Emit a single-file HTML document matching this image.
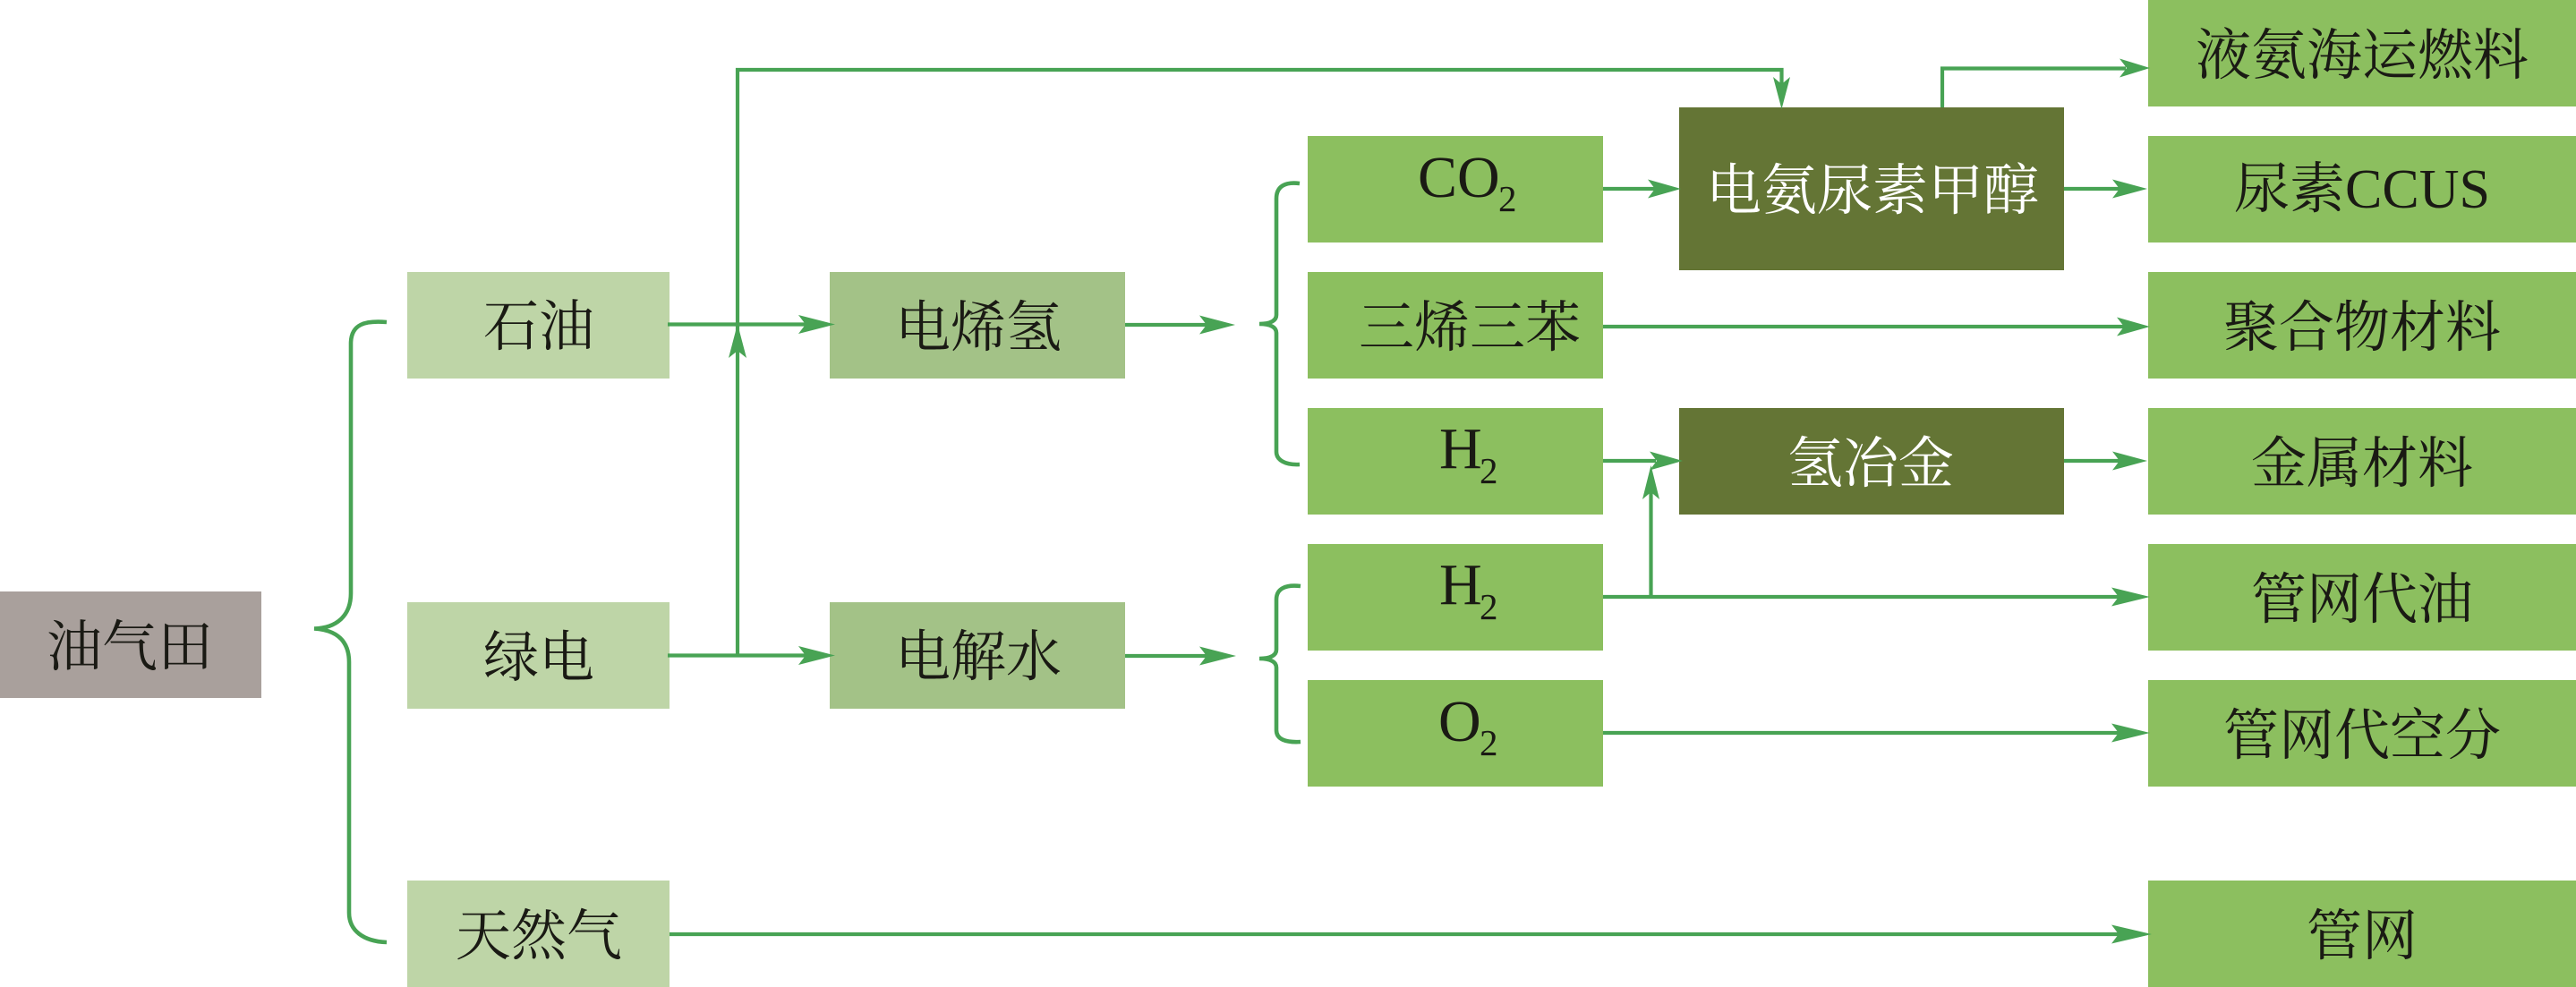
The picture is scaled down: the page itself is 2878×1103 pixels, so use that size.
<!DOCTYPE html>
<html lang="zh">
<head>
<meta charset="utf-8">
<style>
html,body{margin:0;padding:0;background:#fff;}
svg{display:block;}
.t{font-family:"Liberation Serif","Noto Serif CJK SC",serif;font-size:62px;fill:#1a1a14;text-anchor:middle;}
.w{fill:#fff;}
.l{font-family:"Liberation Serif",serif;font-size:66px;fill:#1a1a14;}
.s{font-family:"Liberation Serif",serif;font-size:41px;fill:#1a1a14;}
.ln{fill:none;stroke:#48a354;stroke-width:4.2;}
.br{fill:none;stroke:#48a354;stroke-width:4.6;}
.ar{fill:#48a354;}
</style>
</head>
<body>
<svg width="2878" height="1103" viewBox="0 0 2878 1103" xmlns="http://www.w3.org/2000/svg">
<rect width="2878" height="1103" fill="#fff"/>

<!-- boxes -->
<rect x="0" y="661" width="292" height="119" fill="#a9a09c"/>
<rect x="455" y="304" width="293" height="119" fill="#bed5a7"/>
<rect x="455" y="673" width="293" height="119" fill="#bed5a7"/>
<rect x="455" y="984" width="293" height="119" fill="#bed5a7"/>
<rect x="927" y="304" width="330" height="119" fill="#a3c287"/>
<rect x="927" y="673" width="330" height="119" fill="#a3c287"/>
<rect x="1461" y="152" width="330" height="119" fill="#8cbf5f"/>
<rect x="1461" y="304" width="330" height="119" fill="#8cbf5f"/>
<rect x="1461" y="456" width="330" height="119" fill="#8cbf5f"/>
<rect x="1461" y="608" width="330" height="119" fill="#8cbf5f"/>
<rect x="1461" y="760" width="330" height="119" fill="#8cbf5f"/>
<rect x="1876" y="120" width="430" height="182" fill="#647535"/>
<rect x="1876" y="456" width="430" height="119" fill="#647535"/>
<rect x="2400" y="0" width="478" height="119" fill="#8cbf5f"/>
<rect x="2400" y="152" width="478" height="119" fill="#8cbf5f"/>
<rect x="2400" y="304" width="478" height="119" fill="#8cbf5f"/>
<rect x="2400" y="456" width="478" height="119" fill="#8cbf5f"/>
<rect x="2400" y="608" width="478" height="119" fill="#8cbf5f"/>
<rect x="2400" y="760" width="478" height="119" fill="#8cbf5f"/>
<rect x="2400" y="984" width="478" height="119" fill="#8cbf5f"/>

<!-- braces -->
<path class="br" d="M432 360 C408 358 392 362 392 384 L392 663 C392 688 376 702 351 702.5 C376 704 390 716 390 740 L390 1020 C390 1040 406 1052 432 1053"/>
<path class="br" d="M1452 205 C1436 203 1426 208 1426 222 L1426 352 C1426 358 1420 362 1407 362 C1420 362 1426 366 1426 372 L1426 505 C1426 514 1436 520 1452 519"/>
<path class="br" d="M1453 655 C1436 653 1426 658 1426 670 L1426 726 C1426 732 1420 736 1407 736 C1420 736 1426 740 1426 746 L1426 816 C1426 826 1436 830 1453 829"/>

<!-- connectors -->
<path class="ln" d="M746 362.5H900"/>
<path class="ln" d="M746 732.5H900"/>
<path class="ln" d="M824 732.5V78H1990.5V95"/>
<path class="ln" d="M1257 363H1350"/>
<path class="ln" d="M1257 733H1350"/>
<path class="ln" d="M1791 211H1850"/>
<path class="ln" d="M1791 365H2375"/>
<path class="ln" d="M1791 515H1850"/>
<path class="ln" d="M1791 667H2375"/>
<path class="ln" d="M1791 819H2375"/>
<path class="ln" d="M1844.5 667V545"/>
<path class="ln" d="M2170 120V76.5H2375"/>
<path class="ln" d="M2306 211H2370"/>
<path class="ln" d="M2306 515H2370"/>
<path class="ln" d="M748 1044H2375"/>

<!-- arrowheads -->
<polygon class="ar" points="933,362.5 892,352 900,362.5 892,373"/>
<polygon class="ar" points="933,732.5 892,722 900,732.5 892,743"/>
<polygon class="ar" points="824,362 814,400 824,392 834,400"/>
<polygon class="ar" points="1380,363 1340,352.5 1348,363 1340,373.5"/>
<polygon class="ar" points="1381,733 1340,722.5 1348,733 1340,743.5"/>
<polygon class="ar" points="1878,211 1841,200.5 1849,211 1841,221.5"/>
<polygon class="ar" points="1880,515 1843,504.5 1851,515 1843,525.5"/>
<polygon class="ar" points="1844.5,520 1835,558 1844.5,550 1854,558"/>
<polygon class="ar" points="1990.5,122 1981,86 1990.5,94 2000,86"/>
<polygon class="ar" points="2402,76 2368,65.5 2376,76 2368,86.5"/>
<polygon class="ar" points="2399,211 2360,200.5 2368,211 2360,221.5"/>
<polygon class="ar" points="2402,365 2365,354.5 2373,365 2365,375.5"/>
<polygon class="ar" points="2399,515 2360,504.5 2368,515 2360,525.5"/>
<polygon class="ar" points="2402,667 2359,656.5 2367,667 2359,677.5"/>
<polygon class="ar" points="2402,819 2359,808.5 2367,819 2359,829.5"/>
<polygon class="ar" points="2404,1044 2359,1033.5 2367,1044 2359,1054.5"/>

<!-- labels -->
<text class="t" x="145" y="744">油气田</text>
<text class="t" x="602" y="386">石油</text>
<text class="t" x="602" y="756">绿电</text>
<text class="t" x="602" y="1067">天然气</text>
<text class="t" x="1093" y="387">电烯氢</text>
<text class="t" x="1093" y="755">电解水</text>
<text class="t" x="1642" y="387">三烯三苯</text>
<text class="t w" x="2092" y="234">电氨尿素甲醇</text>
<text class="t w" x="2090" y="539">氢冶金</text>
<text class="t" x="2639" y="83">液氨海运燃料</text>
<text class="t" x="2639" y="232">尿素CCUS</text>
<text class="t" x="2639" y="387">聚合物材料</text>
<text class="t" x="2639" y="539">金属材料</text>
<text class="t" x="2639" y="691">管网代油</text>
<text class="t" x="2639" y="843">管网代空分</text>
<text class="t" x="2639" y="1067">管网</text>

<text class="l" x="1584" y="220">CO</text><text class="s" x="1674" y="236">2</text>
<text class="l" x="1608" y="523">H</text><text class="s" x="1653" y="540">2</text>
<text class="l" x="1608" y="675">H</text><text class="s" x="1653" y="692">2</text>
<text class="l" x="1607" y="828">O</text><text class="s" x="1653" y="844">2</text>
</svg>
</body>
</html>
